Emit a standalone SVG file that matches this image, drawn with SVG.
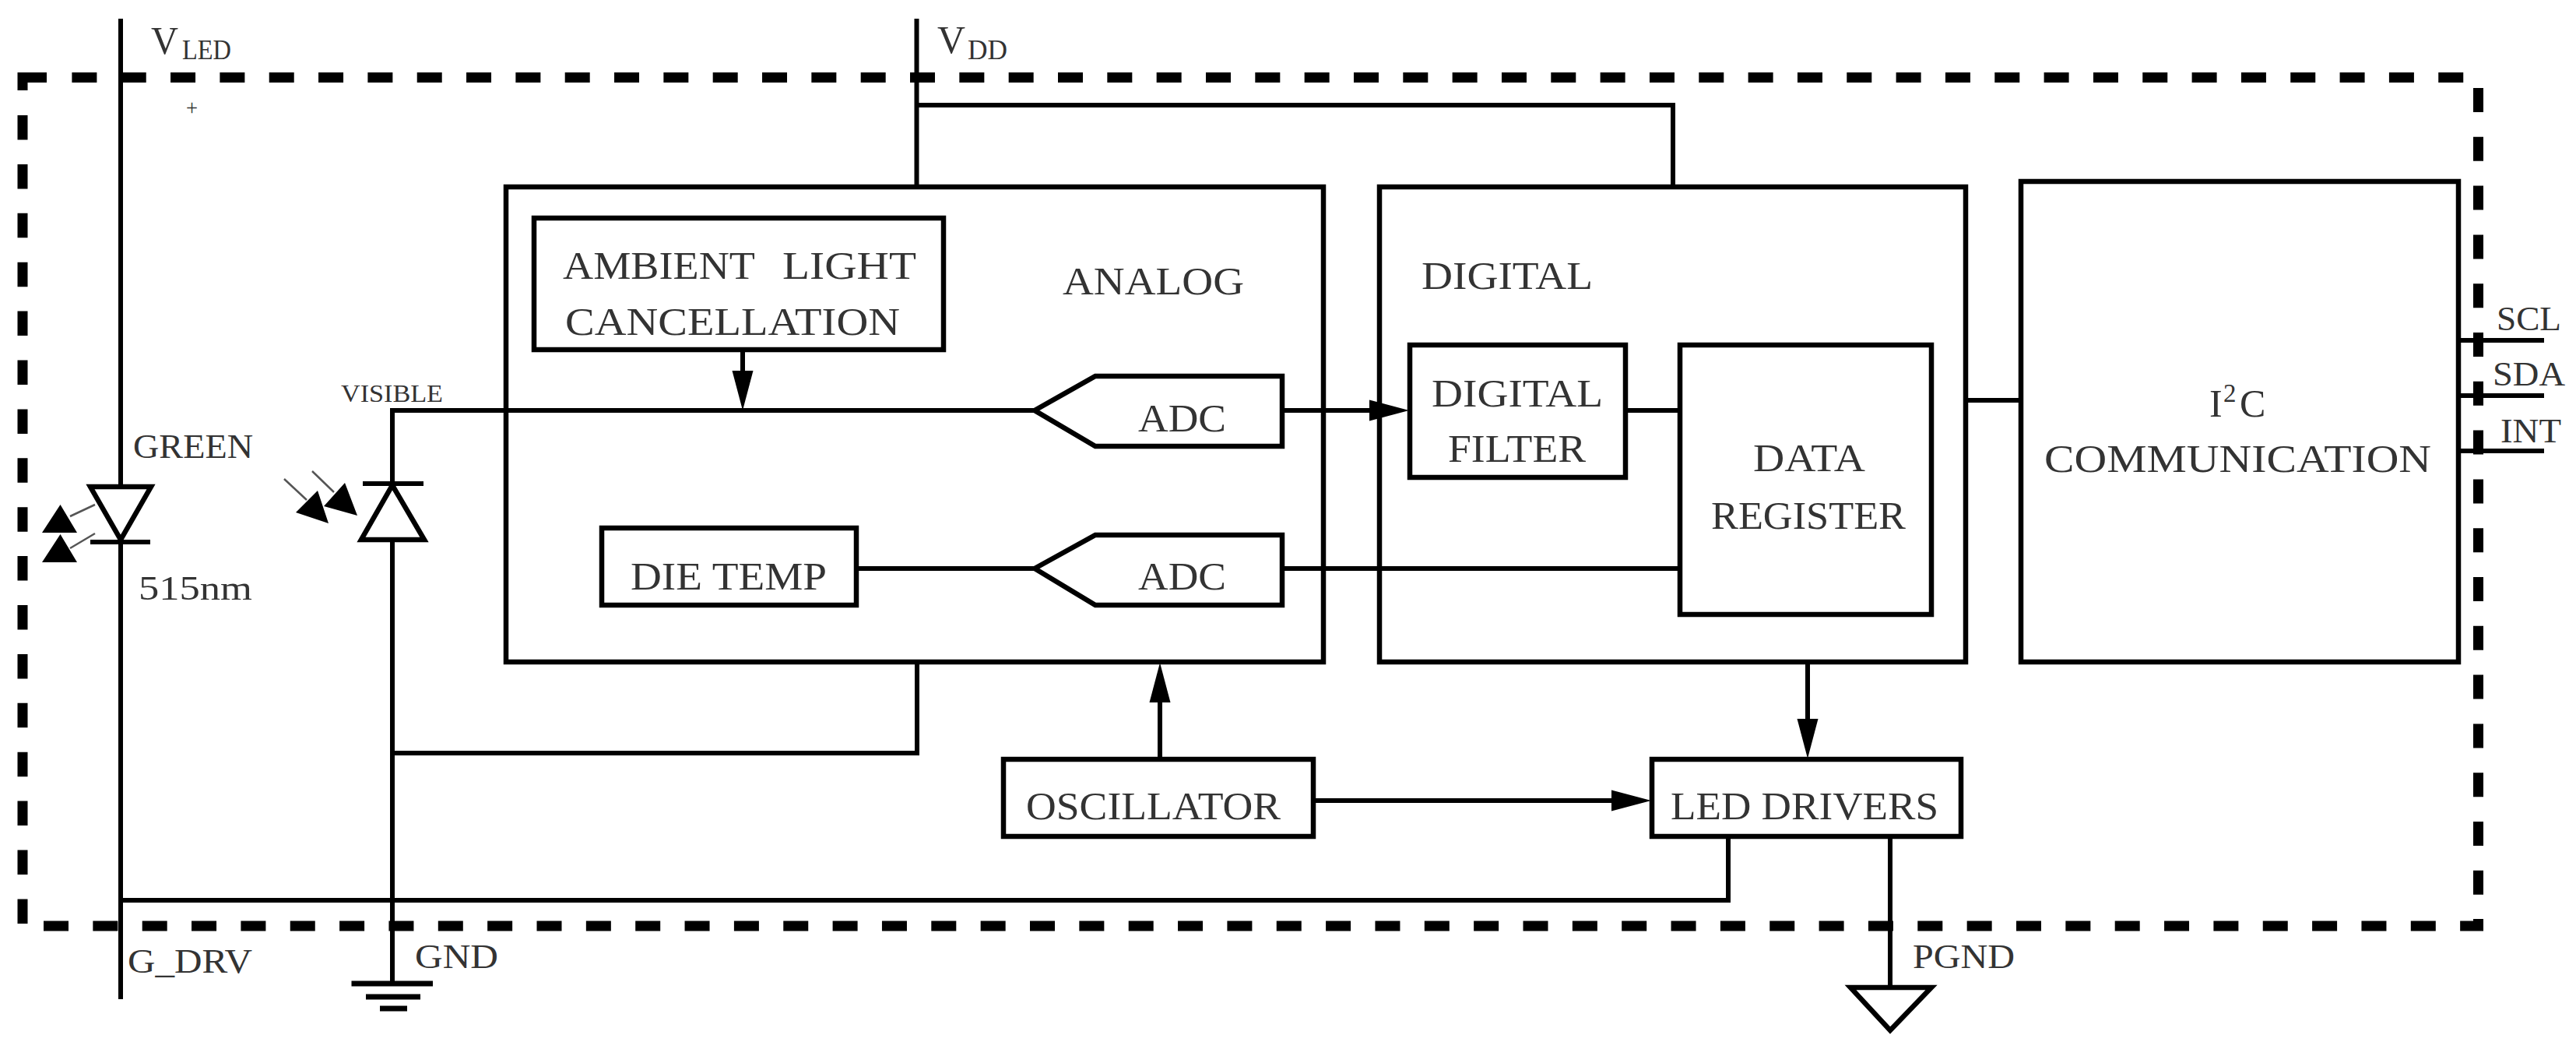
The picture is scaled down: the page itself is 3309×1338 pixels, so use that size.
<svg xmlns="http://www.w3.org/2000/svg" width="3309" height="1338" viewBox="0 0 3309 1338">
<style>
text{font-family:"Liberation Serif","Times New Roman",serif;fill:#333;font-size:50px}
.b{fill:none;stroke:#000;stroke-width:6.5;stroke-linejoin:miter}
.w{fill:none;stroke:#000;stroke-width:6}
.t{fill:none;stroke:#555;stroke-width:2.5}
.d{fill:none;stroke:#000;stroke-width:13}
.k{fill:#000;stroke:none}
.s{font-size:44px}
.m{font-size:36px}
</style>
<defs>
<marker id="ah" markerUnits="userSpaceOnUse" markerWidth="52" markerHeight="28" viewBox="0 0 52 28" refX="2" refY="14" orient="auto"><path d="M0,0.5 L51,14 L0,27.5 z" fill="#000"/></marker>
</defs>
<rect width="3309" height="1338" fill="#fff"/>
<g id="boundary">
<path class="d" d="M29,116 V99.5 H60"/>
<path class="d" stroke-dasharray="32 31.33" d="M92.4,99.5 H3165"/>
<path class="d" stroke-dasharray="31.5 31.4" d="M29,148 V1186"/>
<path class="d" stroke-dasharray="31 31.8" d="M3183.5,113 V1149"/>
<path class="d" stroke-dasharray="32 31.35" d="M56,1189 H3190"/>
<path class="d" d="M3183.5,1180 V1195"/>
</g>
<g id="connectors">
<path class="w" d="M155,24 V625 M155,696 V1283"/>
<path class="w" d="M1177.5,24 V240 M1177.5,135 H2149 V240"/>
<path class="w" d="M504,621 V527 H1329 M504,693 V1262"/>
<path class="w" d="M1178,850 V967 H504"/>
<path class="w" d="M155,1156 H2220 V1074"/>
<path class="w" d="M954,449 V478" marker-end="url(#ah)"/>
<path class="w" d="M1647,527 H1761" marker-end="url(#ah)"/>
<path class="w" d="M1100,730 H1329"/>
<path class="w" d="M1647,730 H2158"/>
<path class="w" d="M2088,527 H2158"/>
<path class="w" d="M2322,850 V925" marker-end="url(#ah)"/>
<path class="w" d="M1490,975 V900" marker-end="url(#ah)"/>
<path class="w" d="M1687,1028 H2072" marker-end="url(#ah)"/>
<path class="w" d="M2428,1074 V1268"/>
<path class="w" d="M2525,514 H2596"/>
<path class="w" d="M3158,437 H3268 M3158,508 H3268 M3158,579 H3268"/>
</g>
<g id="vled-label"><text x="194" y="69" textLength="35" lengthAdjust="spacingAndGlyphs">V</text><text class="m" x="234" y="76" textLength="63" lengthAdjust="spacingAndGlyphs">LED</text></g>
<g id="vdd-label"><text x="1204" y="68" textLength="36" lengthAdjust="spacingAndGlyphs">V</text><text class="m" x="1243" y="76" textLength="51" lengthAdjust="spacingAndGlyphs">DD</text></g>
<g id="plus"><text x="239" y="148" style="font-size:30px" textLength="15" lengthAdjust="spacingAndGlyphs">+</text></g>
<g id="led-green">
<path class="b" d="M116,625 H194 L155,693 Z"/>
<path class="w" d="M116,696 H193"/>
<path class="k" d="M77.5,648 L54,684 H99 Z M77.5,686 L54,722 H99 Z"/>
<path class="t" d="M90,663 L122,648 M90,704 L122,685"/>
<text class="s" x="171" y="588" textLength="154" lengthAdjust="spacingAndGlyphs">GREEN</text>
<text class="s" x="178" y="770" textLength="146" lengthAdjust="spacingAndGlyphs">515nm</text>
<text class="s" x="164" y="1249" textLength="160" lengthAdjust="spacingAndGlyphs">G_DRV</text>
</g>
<g id="photodiode">
<path class="b" d="M504,623 L545,693 H464 Z"/>
<path class="w" d="M466,621 H544"/>
<path class="k" d="M380,658 L408,630 L422,672 Z M416,650 L443,620 L459,662 Z"/>
<path class="t" d="M365,615 L394,642 M401,605 L429,632"/>
<text x="438" y="516" style="font-size:32px" textLength="131" lengthAdjust="spacingAndGlyphs">VISIBLE</text>
</g>
<g id="gnd">
<path class="w" style="stroke-width:7" d="M451.5,1263 H556 M470,1280 H540 M488,1295 H523"/>
<text class="s" x="533" y="1243" textLength="107" lengthAdjust="spacingAndGlyphs">GND</text>
</g>
<g id="pgnd">
<path class="b" d="M2377,1268 H2481 L2428,1323 Z"/>
<text class="s" x="2457" y="1243" textLength="131" lengthAdjust="spacingAndGlyphs">PGND</text>
</g>
<g id="analog">
<rect class="b" x="650" y="240" width="1050" height="610"/>
<text x="1365" y="378" textLength="233" lengthAdjust="spacingAndGlyphs">ANALOG</text>
</g>
<g id="ambient">
<rect class="b" x="686" y="280" width="526" height="169"/>
<text x="723" y="358"><tspan x="723" textLength="247" lengthAdjust="spacingAndGlyphs">AMBIENT</tspan><tspan x="1005" textLength="172" lengthAdjust="spacingAndGlyphs">LIGHT</tspan></text>
<text x="726" y="430" textLength="430" lengthAdjust="spacingAndGlyphs">CANCELLATION</text>
</g>
<g id="adc1">
<path class="b" d="M1329,527 L1407,483 H1647 V573 H1407 Z"/>
<text x="1462" y="554" textLength="113" lengthAdjust="spacingAndGlyphs">ADC</text>
</g>
<g id="adc2">
<path class="b" d="M1329,730 L1407,687 H1647 V777 H1407 Z"/>
<text x="1462" y="757" textLength="113" lengthAdjust="spacingAndGlyphs">ADC</text>
</g>
<g id="dietemp">
<rect class="b" x="773" y="678" width="327" height="99"/>
<text x="810" y="757" textLength="252" lengthAdjust="spacingAndGlyphs">DIE TEMP</text>
</g>
<g id="digital">
<rect class="b" x="1772" y="240" width="753" height="610"/>
<text x="1826" y="371" textLength="220" lengthAdjust="spacingAndGlyphs">DIGITAL</text>
</g>
<g id="filter">
<rect class="b" x="1811" y="443" width="277" height="170"/>
<text x="1839" y="522" textLength="220" lengthAdjust="spacingAndGlyphs">DIGITAL</text>
<text x="1860" y="593" textLength="177" lengthAdjust="spacingAndGlyphs">FILTER</text>
</g>
<g id="register">
<rect class="b" x="2158" y="443" width="323" height="346"/>
<text x="2252" y="605" textLength="144" lengthAdjust="spacingAndGlyphs">DATA</text>
<text x="2198" y="679" textLength="250" lengthAdjust="spacingAndGlyphs">REGISTER</text>
</g>
<g id="i2c">
<rect class="b" x="2596" y="233" width="562" height="617"/>
<text y="534.5"><tspan x="2838">I</tspan><tspan x="2856" dy="-19" style="font-size:33px">2</tspan><tspan x="2877" dy="19">C</tspan></text>
<text x="2626" y="605.5" textLength="497" lengthAdjust="spacingAndGlyphs">COMMUNICATION</text>
<text class="s" x="3207" y="424" textLength="83" lengthAdjust="spacingAndGlyphs">SCL</text>
<text class="s" x="3202" y="495" textLength="93" lengthAdjust="spacingAndGlyphs">SDA</text>
<text class="s" x="3212" y="568" textLength="78" lengthAdjust="spacingAndGlyphs">INT</text>
</g>
<g id="oscillator">
<rect class="b" x="1289" y="975" width="398" height="99"/>
<text x="1318" y="1052" textLength="327" lengthAdjust="spacingAndGlyphs">OSCILLATOR</text>
</g>
<g id="led-drivers">
<rect class="b" x="2122" y="975" width="397" height="99"/>
<text x="2146" y="1052" textLength="344" lengthAdjust="spacingAndGlyphs">LED DRIVERS</text>
</g>
</svg>
